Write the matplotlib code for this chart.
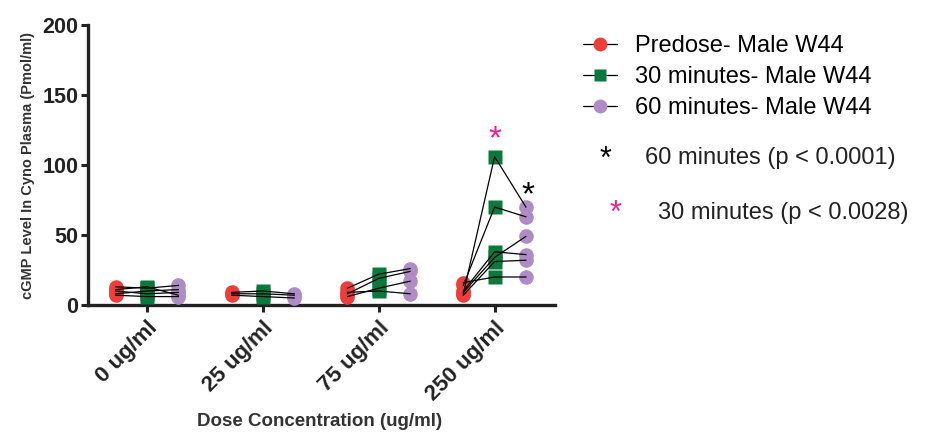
import numpy as np
import matplotlib.pyplot as plt
from matplotlib.lines import Line2D

plt.rcParams['font.family'] = ['Liberation Sans', 'DejaVu Sans']

doses = ["0 ug/ml", "25 ug/ml", "75 ug/ml", "250 ug/ml"]

# one list per dose, one value per animal
predose = [[13, 10, 8, 7, 11], [9, 8, 7], [12, 8, 6, 9], [8, 14, 10, 9, 7, 16]]
min30 = [[12, 8, 10, 6, 13], [10, 8, 6], [22, 19, 12, 10], [106, 70, 38, 34, 31, 20]]
min60 = [[14, 9, 11, 6, 7], [8, 7, 5], [26, 24, 17, 8], [70, 63, 36, 49, 32, 20]]

labels = ["Predose- Male W44", "30 minutes- Male W44", "60 minutes- Male W44"]
red = "#EF3E3A"
green = "#0A7A3C"
purple = "#B08CC6"
pink = "#F0208E"

fig = plt.figure(figsize=(9.3, 4.32), dpi=100)
ax = fig.add_axes([0.0946, 0.294, 0.502, 0.648])

off = 0.27
for i in range(len(doses)):
    xs = [i - off, i, i + off]
    for a, b, c in zip(predose[i], min30[i], min60[i]):
        ax.plot(xs, [a, b, c], color="black", lw=0.9, zorder=4, clip_on=False)
    ax.plot([i - off] * len(predose[i]), predose[i], "o", color=red, ms=10.5,
            mec="none", zorder=3, clip_on=False)
    ax.plot([i] * len(min30[i]), min30[i], "s", color=green, ms=9.5,
            mec="none", zorder=3, clip_on=False)
    ax.plot([i + off] * len(min60[i]), min60[i], "o", color=purple, ms=10.5,
            mec="none", zorder=3, clip_on=False)

# significance marks at 250 ug/ml
ax.text(3, max(min30[3]) + 1, "*", color=pink, fontsize=24, ha="center", va="bottom")
ax.text(3 + off + 0.02, max(min60[3]) - 3, "*", color="black", fontsize=24,
        ha="center", va="bottom")

ax.set_xlim(-0.51, 3.52)
ax.set_ylim(0, 200)
ax.set_yticks([0, 50, 100, 150, 200])
ax.set_xticks(range(len(doses)))
ax.set_xticklabels(doses, rotation=45, ha="right", rotation_mode="anchor",
                   fontsize=16, fontweight="bold", color="#222222")
for t in ax.get_yticklabels():
    t.set_fontsize(15.5)
    t.set_fontweight("bold")
    t.set_color("#222222")
ax.tick_params(width=2.2, length=5, color="#222222", pad=2)
ax.tick_params(axis="x", pad=4)
for s in ["top", "right"]:
    ax.spines[s].set_visible(False)
for s in ["left", "bottom"]:
    ax.spines[s].set_linewidth(2.4)
    ax.spines[s].set_color("#222222")

ax.set_ylabel("cGMP Level In Cyno Plasma (Pmol/ml)", fontsize=10.5,
              fontweight="bold", color="#333333", labelpad=5)
fig.text(0.344, 0.024, "Dose Concentration (ug/ml)", fontsize=13.5,
         fontweight="bold", color="#333333", ha="center", va="center")

handles = [
    Line2D([], [], color="black", lw=0.9, marker="o", mfc=red, mec="none", ms=10),
    Line2D([], [], color="black", lw=0.9, marker="s", mfc=green, mec="none", ms=9),
    Line2D([], [], color="black", lw=0.9, marker="o", mfc=purple, mec="none", ms=10),
]
fig.legend(handles, labels, loc="upper left", bbox_to_anchor=(0.617, 0.94),
           frameon=False, fontsize=17, handlelength=1.45, handletextpad=0.75,
           labelspacing=0.38, borderaxespad=0)

fig.text(0.651, 0.63, "*", fontsize=22, color="black", ha="center", va="center")
fig.text(0.694, 0.635, "60 minutes (p < 0.0001)", fontsize=17, color="#222222",
         va="center")
fig.text(0.662, 0.505, "*", fontsize=22, color=pink, ha="center", va="center")
fig.text(0.707, 0.507, "30 minutes (p < 0.0028)", fontsize=17, color="#222222",
         va="center")

fig.savefig("out.png", dpi=100)
